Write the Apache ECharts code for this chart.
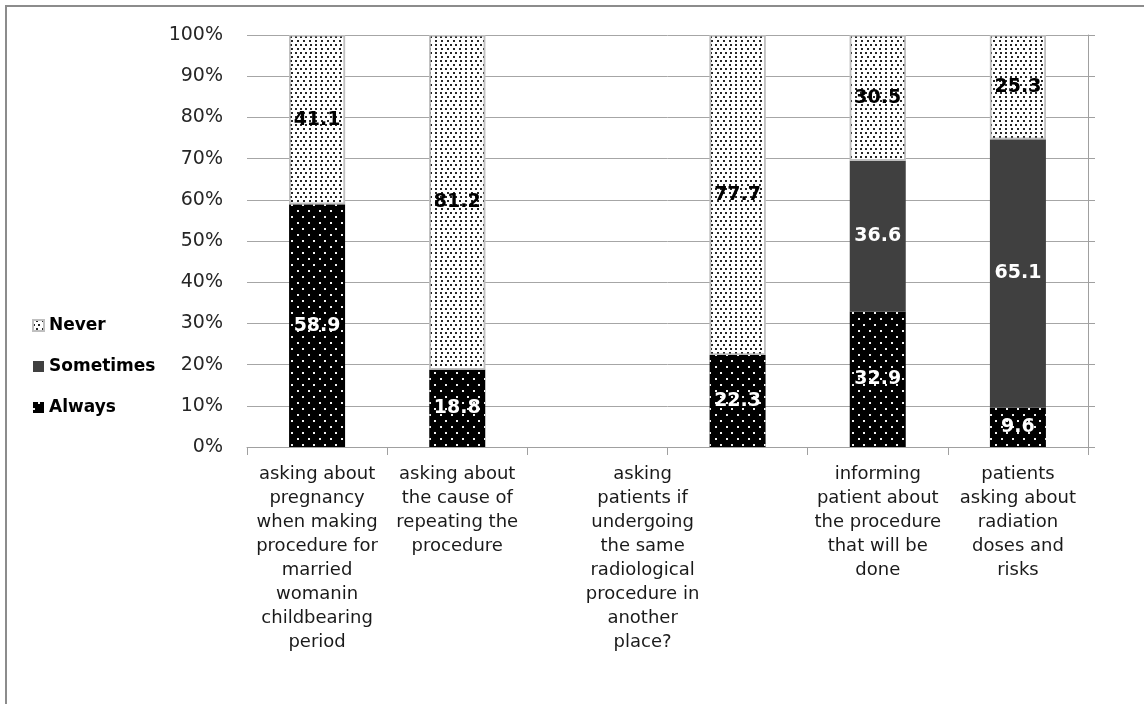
<!DOCTYPE html>
<html>
<head>
<meta charset="utf-8">
<script src="https://cdn.jsdelivr.net/npm/echarts@6/dist/echarts.min.js"></script>
<style>
  html, body { margin: 0; padding: 0; background: #fff; }
  #chart { width: 1144px; height: 704px; }
</style>
</head>
<body>
<div id="chart"></div>
<script>
// Survey items (the third slot is an empty gap column)
const categories = [
  'asking about\npregnancy\nwhen making\nprocedure for\nmarried\nwomanin\nchildbearing\nperiod',
  'asking about\nthe cause of\nrepeating the\nprocedure',
  '',
  'asking\npatients if\nundergoing\nthe same\nradiological\nprocedure in\nanother\nplace?',
  'informing\npatient about\nthe procedure\nthat will be\ndone',
  'patients\nasking about\nradiation\ndoses and\nrisks'
];

// Percentages per answer ('-' = no segment)
const always    = [58.9, 18.8, '-', 22.3, 32.9, 9.6];
const sometimes = ['-', '-', '-', '-', 36.6, 65.1];
const never     = [41.1, 81.2, '-', 77.7, 30.5, 25.3];

const yTicks = [0, 10, 20, 30, 40, 50, 60, 70, 80, 90, 100];

const FONT = 'DejaVu Sans';

const axisCategories = categories.map((c, i) =>
  i === 3 ? { value: c, textStyle: { padding: [0, 190, 0, 0] } } : c
);

const chart = echarts.init(document.getElementById('chart'), null, { renderer: 'canvas' });

const labelBase = {
  show: true,
  position: 'inside',
  fontFamily: FONT,
  fontWeight: 'bold',
  fontSize: 19,
  formatter: p => p.value
};

chart.setOption({
  animation: false,
  backgroundColor: '#ffffff',
  graphic: [{
    type: 'rect',
    shape: { x: 6, y: 6, width: 1160, height: 720 },
    style: { fill: 'none', stroke: '#8c8c8c', lineWidth: 2 },
    silent: true
  }],
  grid: { left: 247, right: 56, top: 35, bottom: 257, containLabel: false },
  legend: {
    data: ['Never', 'Sometimes', 'Always'],
    orient: 'vertical',
    left: 27,
    top: 312,
    icon: 'rect',
    itemWidth: 11,
    itemHeight: 11,
    itemGap: 24,
    textStyle: { fontFamily: FONT, fontWeight: 'bold', fontSize: 17, color: '#000' }
  },
  xAxis: {
    type: 'category',
    data: axisCategories,
    axisLine: { lineStyle: { color: '#a0a0a0', width: 1 } },
    axisTick: { show: true, length: 8, alignWithLabel: false, lineStyle: { color: '#a0a0a0' } },
    axisLabel: {
      interval: 0,
      margin: 15,
      fontFamily: FONT,
      fontSize: 18,
      lineHeight: 24,
      color: '#1a1a1a',
      align: 'center'
    },
    splitLine: { show: false }
  },
  yAxis: [{
    type: 'value',
    min: yTicks[0],
    max: yTicks[yTicks.length - 1],
    interval: 10,
    axisLine: { show: false },
    axisTick: { show: false },
    axisLabel: {
      formatter: '{value}%',
      fontFamily: FONT,
      fontSize: 19,
      color: '#262626',
      margin: 24
    },
    splitLine: { show: true, lineStyle: { color: '#a6a6a6', width: 1 } }
  }, {
    type: 'value',
    position: 'right',
    min: yTicks[0],
    max: yTicks[yTicks.length - 1],
    interval: 10,
    axisLine: { show: true, lineStyle: { color: '#a0a0a0', width: 1 } },
    axisTick: { show: true, inside: false, length: 7, lineStyle: { color: '#a0a0a0' } },
    axisLabel: { show: false },
    splitLine: { show: false }
  }],
  series: [{
    name: 'Always',
    type: 'bar',
    stack: 'total',
    barWidth: 56,
    data: always,
    itemStyle: {
      color: '#000000',
      decal: {
        symbol: 'rect',
        symbolSize: 1,
        color: 'rgba(255,255,255,0.95)',
        dashArrayX: [[1.5, 8.5], [0, 5, 1.5, 3.5]],
        dashArrayY: [1.5, 3.5],
        rotation: 0
      }
    },
    label: Object.assign({}, labelBase, { color: '#ffffff' })
  }, {
    name: 'Sometimes',
    type: 'bar',
    stack: 'total',
    barWidth: 56,
    data: sometimes,
    itemStyle: { color: '#404040' },
    label: Object.assign({}, labelBase, { color: '#ffffff' })
  }, {
    name: 'Never',
    type: 'bar',
    stack: 'total',
    barWidth: 56,
    data: never,
    itemStyle: {
      color: '#ffffff',
      borderColor: '#bfbfbf',
      borderWidth: 1.5,
      decal: {
        symbol: 'rect',
        symbolSize: 1,
        color: 'rgba(0,0,0,0.85)',
        dashArrayX: [[1.5, 3], [0, 2.25, 1.5, 0.75]],
        dashArrayY: [1.5, 2],
        rotation: 0
      }
    },
    label: Object.assign({}, labelBase, { color: '#000000' })
  }]
});
</script>
</body>
</html>
